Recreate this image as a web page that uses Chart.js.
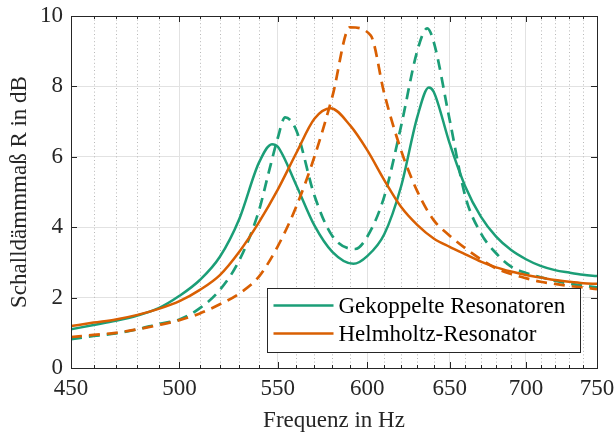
<!DOCTYPE html>
<html>
<head>
<meta charset="utf-8">
<script src="https://cdn.jsdelivr.net/npm/chart.js@4.4.1/dist/chart.umd.min.js"></script>
<style>
  html, body { margin: 0; padding: 0; background: #fff; }
  #wrap { width: 616px; height: 435px; }
</style>
</head>
<body>
<div id="wrap"><canvas id="chart" width="616" height="435"></canvas></div>
<script>
'use strict';
const FONT   = "'Liberation Serif', 'DejaVu Serif', serif";
const GREEN  = '#1b9e77';
const ORANGE = '#d95f02';
const INK    = '#262626';

// axes
const xTicks = [450, 500, 550, 600, 650, 700, 750];
const xMinor = [460, 470, 480, 490, 510, 520, 530, 540, 560, 570, 580, 590, 610, 620, 630, 640, 660, 670, 680, 690, 710, 720, 730, 740];
const yTicks = [0, 2, 4, 6, 8, 10];

const seriesNames = ['Gekoppelte Resonatoren', 'Helmholtz-Resonator'];

// Gekoppelte Resonatoren, durchgezogen
const fGekSolid = [450, 460, 470, 480, 490, 500, 510, 520, 530, 540, 547, 550, 560, 570, 580, 592, 600, 610, 620, 630, 637, 640, 650, 660, 670, 680, 690, 700, 710, 720, 730, 740, 750];
const rGekSolid = [1.10, 1.22, 1.34, 1.49, 1.70, 2.05, 2.50, 3.16, 4.25, 5.82, 6.36, 6.29, 5.20, 4.05, 3.30, 2.96, 3.18, 3.80, 5.15, 7.15, 7.97, 7.85, 6.38, 5.15, 4.30, 3.73, 3.35, 3.09, 2.90, 2.78, 2.71, 2.65, 2.61];

// Gekoppelte Resonatoren, gestrichelt
const fGekDash = [450, 460, 470, 480, 490, 500, 510, 520, 530, 540, 545, 550, 554, 560, 570, 580, 593, 600, 610, 620, 630, 636, 640, 650, 660, 670, 680, 690, 700, 710, 720, 730, 740, 750];
const rGekDash = [0.82, 0.91, 0.98, 1.10, 1.25, 1.38, 1.70, 2.22, 3.07, 4.45, 5.50, 6.52, 7.12, 6.76, 4.90, 3.75, 3.38, 3.73, 4.87, 6.86, 9.03, 9.65, 9.27, 7.05, 4.87, 3.83, 3.26, 2.88, 2.70, 2.58, 2.48, 2.40, 2.34, 2.29];

// Helmholtz-Resonator, durchgezogen
const fHelmSolid = [450, 460, 470, 480, 490, 500, 510, 520, 530, 540, 550, 560, 570, 579, 590, 600, 610, 620, 630, 640, 650, 660, 670, 680, 690, 700, 710, 720, 730, 740, 750];
const rHelmSolid = [1.19, 1.29, 1.38, 1.51, 1.68, 1.90, 2.22, 2.64, 3.31, 4.13, 5.06, 6.10, 7.08, 7.38, 6.90, 6.19, 5.34, 4.58, 4.06, 3.68, 3.44, 3.23, 3.02, 2.86, 2.74, 2.64, 2.57, 2.50, 2.45, 2.41, 2.39];

// Helmholtz-Resonator, gestrichelt
const fHelmDash = [450, 460, 470, 480, 490, 500, 510, 520, 530, 540, 550, 560, 570, 580, 590, 602, 610, 620, 630, 640, 650, 660, 670, 680, 690, 700, 710, 720, 730, 740, 750];
const rHelmDash = [0.88, 0.94, 1.00, 1.10, 1.22, 1.36, 1.55, 1.81, 2.12, 2.59, 3.45, 4.58, 6.00, 7.71, 9.68, 9.45, 7.80, 6.19, 5.01, 4.20, 3.76, 3.40, 3.09, 2.83, 2.67, 2.55, 2.45, 2.39, 2.33, 2.29, 2.24];

const pts = (f, r) => f.map((x, i) => ({ x, y: r[i] }));

const line = (data, color, dashed) => ({
  data,
  borderColor: color,
  borderWidth: dashed ? 2.7 : 2.5,
  borderDash: dashed ? [11, 7] : [],
  borderCapStyle: 'butt',
  pointRadius: 0,
  fill: false,
  cubicInterpolationMode: 'monotone',
});

// minor grid, box with inward ticks, legend inside the plot
const framePlugin = {
  id: 'frame',
  beforeDatasetsDraw(chart) {
    const { ctx, chartArea: ca, scales: { x } } = chart;
    ctx.save();
    ctx.strokeStyle = '#b8b8b8';
    ctx.lineWidth = 1;
    ctx.setLineDash([1, 2.6]);
    xMinor.forEach(v => {
      const px = Math.round(x.getPixelForValue(v)) + 0.5;
      ctx.beginPath(); ctx.moveTo(px, ca.top); ctx.lineTo(px, ca.bottom); ctx.stroke();
    });
    ctx.restore();
  },
  afterDatasetsDraw(chart) {
    const { ctx, chartArea: ca, scales: { x, y } } = chart;
    ctx.save();
    ctx.strokeStyle = INK;
    ctx.lineWidth = 1;
    ctx.strokeRect(Math.round(ca.left) + 0.5, Math.round(ca.top) + 0.5,
                   Math.round(ca.right - ca.left), Math.round(ca.bottom - ca.top));
    const tick = (v, len) => {
      const px = Math.round(x.getPixelForValue(v)) + 0.5;
      ctx.beginPath();
      ctx.moveTo(px, ca.bottom); ctx.lineTo(px, ca.bottom - len);
      ctx.moveTo(px, ca.top);    ctx.lineTo(px, ca.top + len);
      ctx.stroke();
    };
    xTicks.forEach(v => tick(v, 6));
    xMinor.forEach(v => tick(v, 3));
    yTicks.forEach(v => {
      const py = Math.round(y.getPixelForValue(v)) + 0.5;
      ctx.beginPath();
      ctx.moveTo(ca.left, py);  ctx.lineTo(ca.left + 6, py);
      ctx.moveTo(ca.right, py); ctx.lineTo(ca.right - 6, py);
      ctx.stroke();
    });
    ctx.restore();
  },
  afterDraw(chart) {
    const { ctx, chartArea: ca } = chart;
    const w = 313, h = 64;
    const L = Math.round(ca.right - 17 - w) + 0.5, T = Math.round(ca.bottom - 16 - h) + 0.5;
    ctx.save();
    ctx.fillStyle = '#fff';
    ctx.fillRect(L, T, w, h);
    ctx.strokeStyle = INK;
    ctx.lineWidth = 1;
    ctx.strokeRect(L, T, w, h);
    [GREEN, ORANGE].forEach((c, i) => {
      const yy = T + 17 + i * 28;
      ctx.strokeStyle = c;
      ctx.lineWidth = 2.5;
      ctx.beginPath(); ctx.moveTo(L + 6, yy); ctx.lineTo(L + 66, yy); ctx.stroke();
      ctx.fillStyle = '#000';
      ctx.font = '23px ' + FONT;
      ctx.textBaseline = 'middle';
      ctx.fillText(seriesNames[i], L + 71, yy + 1);
    });
    ctx.restore();
  },
};

new Chart(document.getElementById('chart'), {
  type: 'line',
  data: {
    datasets: [
      line(pts(fHelmDash, rHelmDash), ORANGE, true),
      line(pts(fHelmSolid, rHelmSolid), ORANGE, false),
      line(pts(fGekDash, rGekDash), GREEN, true),
      line(pts(fGekSolid, rGekSolid), GREEN, false),
    ],
  },
  options: {
    responsive: false,
    animation: false,
    layout: { padding: { top: 16, right: 19, left: 0, bottom: 0 } },
    plugins: { legend: { display: false }, tooltip: { enabled: false } },
    scales: {
      x: {
        type: 'logarithmic',
        min: 450, max: 750,
        afterBuildTicks: s => { s.ticks = xTicks.map(v => ({ value: v })); },
        afterFit: s => { s.height = 67; s.paddingLeft = 0; s.paddingRight = 0; },
        ticks: { callback: v => String(v), font: { family: FONT, size: 23 }, color: INK, padding: 7, maxRotation: 0, autoSkip: false },
        grid: { color: '#e2e2e2', lineWidth: 1, drawTicks: false },
        border: { display: false },
        title: { display: true, text: 'Frequenz in Hz', font: { family: FONT, size: 23 }, color: INK, padding: { top: 0, bottom: 0 } },
      },
      y: {
        type: 'linear',
        min: 0, max: 10,
        afterBuildTicks: s => { s.ticks = yTicks.map(v => ({ value: v })); },
        afterFit: s => { s.width = 71; s.paddingTop = 0; s.paddingBottom = 0; },
        ticks: { font: { family: FONT, size: 23 }, color: INK, padding: 8 },
        grid: { color: '#e2e2e2', lineWidth: 1, drawTicks: false },
        border: { display: false },
        title: { display: true, text: 'Schalldämmmaß R in dB', font: { family: FONT, size: 23 }, color: INK, padding: { top: 6, bottom: 0 } },
      },
    },
  },
  plugins: [framePlugin],
});
</script>
</body>
</html>
